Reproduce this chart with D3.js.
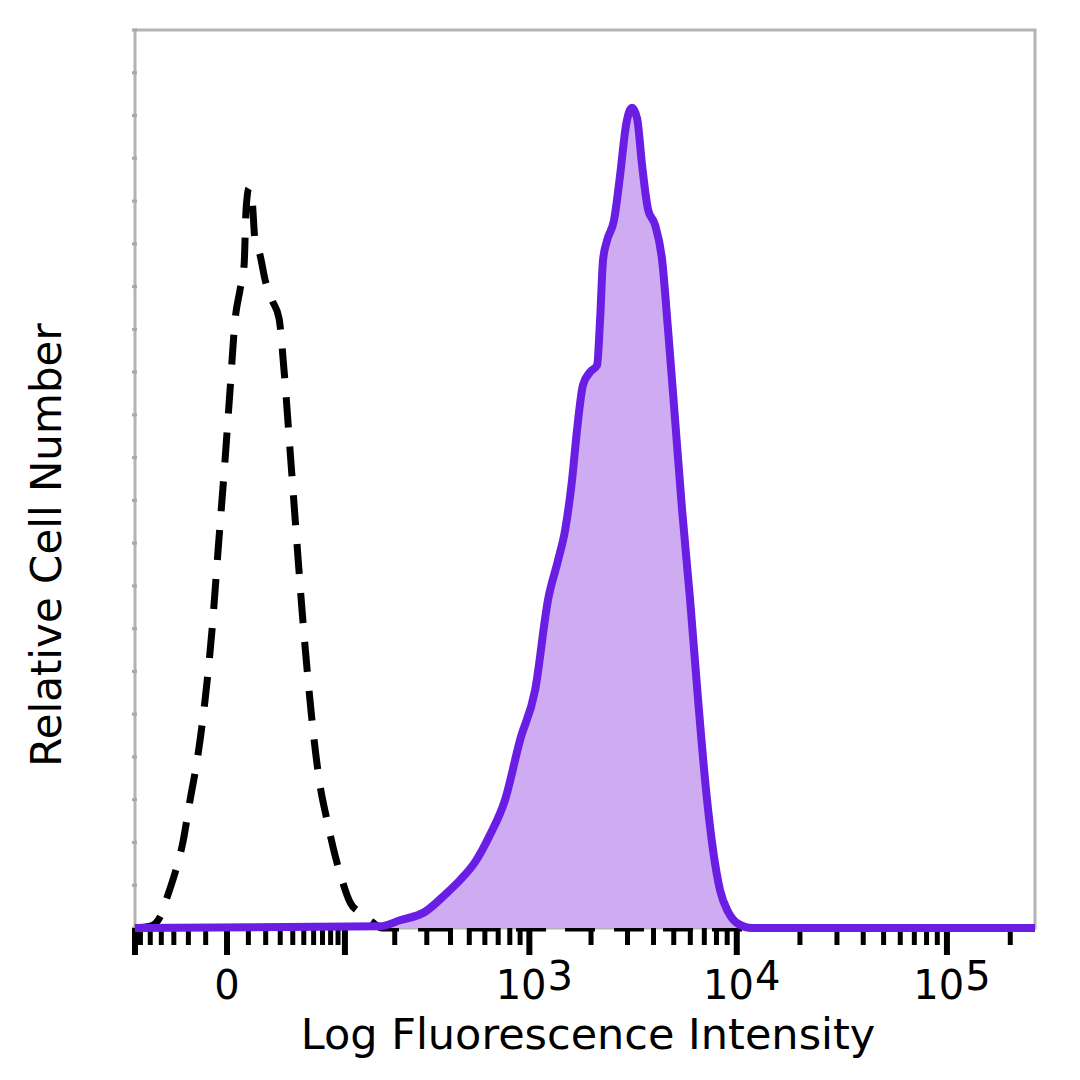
<!DOCTYPE html>
<html>
<head>
<meta charset="utf-8">
<script src="https://cdn.jsdelivr.net/npm/d3@7/dist/d3.min.js"></script>
<style>
  html, body { margin: 0; padding: 0; background: #ffffff; }
  svg { display: block; }
</style>
</head>
<body>
<svg id="chart" width="1080" height="1080"></svg>
<script>
// ---- Data (fluorescence intensity, relative cell number) ----
const controlIntensity = [-66, -50, -41, -34.5, -29, -23.5, -19, -14.7, -10.3, -6.8, -3.9, -0.84, 1.27, 3.5, 5.8, 7.8, 8.8, 10.3, 12, 13.6, 16.5, 19.6, 24.2, 29.1, 32.9, 37.7, 42.8, 48.3, 54.2, 60.5, 67.1, 75.5, 85.9, 95.7, 108, 124.8, 147.7, 169, 262144];
const controlCount = [0, 0.2, 1.3, 3.9, 6.5, 10.1, 14.9, 19.6, 26.7, 34.8, 44.2, 54.7, 62.9, 71.1, 74.6, 77.5, 84.0, 86.5, 85.1, 80.4, 78.7, 75.8, 73.4, 71.3, 65.2, 55.9, 46.5, 37.2, 29.0, 22.0, 16.7, 12.6, 8.5, 5.6, 3.0, 1.75, 0.7, 0, 0];

const stainedIntensity = [-66, 164.7, 214, 293.8, 374.8, 448, 535, 637, 758, 900, 1067, 1236, 1383, 1496, 1618, 1710, 1829, 1978, 2139, 2212, 2286, 2391, 2584, 2762, 2952, 3155, 3334, 3524, 3766, 4070, 4397, 4697, 5075, 5480, 5985, 6535, 7137, 7706, 8326, 9090, 10140, 11826, 262144];
const stainedCount = [0, 0.2, 0.9, 1.9, 3.9, 5.6, 7.7, 10.9, 15.0, 22.0, 27.8, 38.4, 43.0, 46.5, 52.4, 58.2, 63.5, 65.0, 65.8, 71.1, 78.1, 80.4, 82.8, 88.0, 93.9, 95.9, 94.7, 89.2, 84.0, 82.2, 78.1, 69.9, 59.4, 48.9, 38.4, 26.7, 16.1, 9.1, 4.4, 1.9, 0.5, 0, 0];

const majorTicks = [0, 100, 1000, 10000, 100000];
const minorTicks = [-60, -50, -40, -30, -20, -10, 10, 20, 30, 40, 50, 60, 70, 80, 90,
  200, 300, 400, 500, 600, 700, 800, 900,
  2000, 3000, 4000, 5000, 6000, 7000, 8000, 9000,
  20000, 30000, 40000, 50000, 60000, 70000, 80000, 90000, 200000];
const tickLabels = [
  {value: 0, base: "0", exp: ""},
  {value: 1000, base: "10", exp: "3"},
  {value: 10000, base: "10", exp: "4"},
  {value: 100000, base: "10", exp: "5"}
];
const yTicks = d3.range(0, 106, 5);
const xTitle = "Log Fluorescence Intensity";
const yTitle = "Relative Cell Number";

// ---- Layout ----
const L = 135, R = 1035, T = 30, B = 928;
const svg = d3.select("#chart");

const x = d3.scaleSymlog().constant(38).domain([-66, 262144]).range([L, R]);
const y = d3.scaleLinear().domain([0, 105]).range([B, T]);

// frame
svg.append("rect").attr("x", L).attr("y", T).attr("width", R - L).attr("height", B - T)
  .attr("fill", "none").attr("stroke", "#b3b3b3").attr("stroke-width", 3);

// y ticks (small gray)
svg.append("g").selectAll("line").data(yTicks).join("line")
  .attr("x1", L - 3).attr("x2", L + 2)
  .attr("y1", d => y(d)).attr("y2", d => y(d))
  .attr("stroke", "#a8a8a8").attr("stroke-width", 3);

// x ticks
const gx = svg.append("g");
gx.selectAll("line.minor").data(minorTicks).join("line").attr("class", "minor")
  .attr("x1", d => x(d)).attr("x2", d => x(d))
  .attr("y1", B).attr("y2", B + 17)
  .attr("stroke", "#000").attr("stroke-width", 5);
gx.selectAll("line.major").data(majorTicks).join("line").attr("class", "major")
  .attr("x1", d => x(d)).attr("x2", d => x(d))
  .attr("y1", B).attr("y2", B + 27)
  .attr("stroke", "#000").attr("stroke-width", 6);
gx.append("line").attr("x1", L).attr("x2", L).attr("y1", B).attr("y2", B + 27)
  .attr("stroke", "#000").attr("stroke-width", 6);

// control (dashed)
const lineCtrl = d3.line().x((d, i) => x(controlIntensity[i])).y(d => y(d)).curve(d3.curveMonotoneX);
svg.append("path").datum(controlCount)
  .attr("d", lineCtrl)
  .attr("fill", "none").attr("stroke", "#000").attr("stroke-width", 7)
  .attr("stroke-dasharray", "30,19").attr("stroke-linejoin", "round");

// stained (filled purple)
const areaSt = d3.area().x((d, i) => x(stainedIntensity[i])).y0(y(0)).y1(d => y(d)).curve(d3.curveMonotoneX);
const lineSt = d3.line().x((d, i) => x(stainedIntensity[i])).y(d => y(d)).curve(d3.curveMonotoneX);
svg.append("path").datum(stainedCount).attr("d", areaSt).attr("fill", "#cfabf1");
svg.append("path").datum(stainedCount).attr("d", lineSt)
  .attr("fill", "none").attr("stroke", "#6a1de3").attr("stroke-width", 8)
  .attr("stroke-linejoin", "round");

// tick labels
const fontFam = "'DejaVu Sans', 'Open Sans', sans-serif";
const lab = svg.append("g").attr("font-family", fontFam).attr("font-size", 40).attr("fill", "#000");
tickLabels.forEach(t => {
  const tx = lab.append("text").attr("x", x(t.value) + (t.exp ? 5 : 0)).attr("y", 999).attr("text-anchor", "middle");
  tx.append("tspan").text(t.base);
  if (t.exp) tx.append("tspan").attr("dx", 1).attr("dy", -9).text(t.exp);
});

// axis titles
svg.append("text").attr("x", 588).attr("y", 1049).attr("text-anchor", "middle")
  .attr("font-family", fontFam).attr("font-size", 43).attr("fill", "#000").text(xTitle);
svg.append("text").attr("transform", "translate(61,545) rotate(-90)").attr("text-anchor", "middle")
  .attr("font-family", fontFam).attr("font-size", 42).attr("fill", "#000").text(yTitle);
</script>
</body>
</html>
